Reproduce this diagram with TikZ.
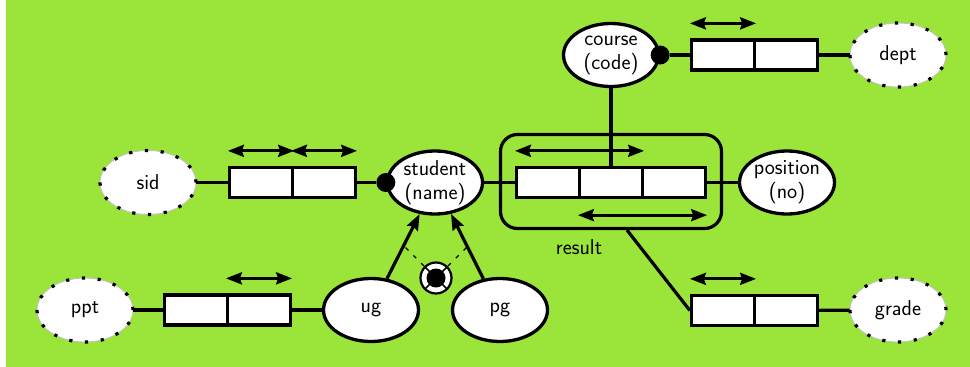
\documentclass[tikz,border=0pt]{standalone}
\usepackage{fontspec}
\usetikzlibrary{shapes.geometric,arrows.meta}
\definecolor{bg}{RGB}{155,229,58}
\begin{document}
\begin{tikzpicture}[x=1pt,y=-1pt,
  font=\sffamily\fontsize{21.5}{24}\selectfont,
  entity/.style={ellipse, draw, line width=3.3pt, fill=white,
    minimum width=95pt, minimum height=63pt, inner sep=-8pt, align=center},
  attr/.style={ellipse, fill=white, draw=black!25, line width=0.8pt,
    minimum width=96pt, minimum height=64pt, inner sep=0pt,
    postaction={draw=black, line width=3.2pt, dash pattern=on 3.2pt off 12.66pt}},
  cell/.style={rectangle, draw, line width=3.3pt, fill=white,
    minimum width=63pt, minimum height=30pt, inner sep=0pt},
  keydot/.style={circle, fill=black, minimum size=19pt, inner sep=0pt},
  link/.style={line width=3.2pt},
  tip/.tip={Stealth[length=16pt,width=12pt,inset=2pt]},
  span/.style={line width=3pt, tip-tip},
  isa/.style={line width=3.2pt, -tip},
  guide/.style={line width=1.2pt, dash pattern=on 4pt off 7pt, dash phase=5pt}
]
\useasboundingbox (0,0) rectangle (970,367);
\fill[bg] (6,0) rectangle (970,367);

% entities
\node[entity] (course)   at (611,55)    {course\\(code)};
\node[entity] (student)  at (435,182.5) {student\\(name)};
\node[entity] (position) at (787,182.5) {position\\(no)};
\node[entity] (ug)       at (371,310)   {ug};
\node[entity] (pg)       at (500,310)   {pg};

% attributes
\node[attr] (sid)   at (148,182.5) {sid};
\node[attr] (ppt)   at (85,310)    {ppt};
\node[attr] (dept)  at (898,55)    {dept};
\node[attr] (grade) at (898,310)   {grade};

% relation frame
\node[draw, line width=3.2pt, rounded corners=17pt,
  minimum width=221pt, minimum height=94pt] (frame) at (611,181.5) {};
\node (resultlabel) at (579,247) {result};

% cells
\node[cell] (sidA)   at (261,182.5) {};
\node[cell] (sidB)   at (324,182.5) {};
\node[cell] (pptA)   at (196,310)   {};
\node[cell] (pptB)   at (259,310)   {};
\node[cell] (deptA)  at (723,55)    {};
\node[cell] (deptB)  at (786,55)    {};
\node[cell] (gradeA) at (723,310.5) {};
\node[cell] (gradeB) at (786,310.5) {};
\node[cell] (resA)   at (548,182.5) {};
\node[cell] (resB)   at (611,182.5) {};
\node[cell] (resC)   at (674,182.5) {};

% key dots
\node[keydot] (k1) at (student.west) {};
\node[keydot] (k2) at (course.east) {};

% connectors
\draw[link] (sid) -- (sidA);
\draw[link] (sidB) -- (k1);
\draw[link] (student) -- (resA);
\draw[link] (resC) -- (position);
\draw[link] (course) -- (resB);
\draw[link] (k2) -- (deptA);
\draw[link] (deptB) -- (dept);
\draw[link] (ppt) -- (pptA);
\draw[link] (pptB) -- (ug);
\draw[link] (gradeB) -- (grade);
\draw[link] ([xshift=16pt]frame.south) -- (gradeA.west);

% spans
\draw[span] ([yshift=15pt]sidA.north west) -- ([yshift=15pt]sidA.north east);
\draw[span] ([yshift=15pt]sidB.north west) -- ([yshift=15pt]sidB.north east);
\draw[span] ([yshift=15pt]pptB.north west) -- ([yshift=15pt]pptB.north east);
\draw[span] ([yshift=15pt]deptA.north west) -- ([yshift=15pt]deptA.north east);
\draw[span] ([yshift=15pt]gradeA.north west) -- ([yshift=15pt]gradeA.north east);
\draw[span] ([yshift=15pt]resA.north west) -- ([yshift=15pt]resB.north east);
\draw[span] ([yshift=-16pt]resB.south west) -- ([yshift=-16pt]resC.south east);

% specialisation
\draw[isa] (ug.63) -- (student.244);
\draw[isa] (pg.118) -- (student.297);
\coordinate (dj) at (436,278);
\draw[guide] (dj) -- ++(-32,-32);
\draw[guide] (dj) -- ++(32,-32);
\node[circle, draw, line width=2.2pt, fill=white, minimum size=31pt, inner sep=0pt] (djring) at (dj) {};
\draw[line width=1.6pt] (djring.45) -- (djring.225);
\draw[line width=1.6pt] (djring.135) -- (djring.315);
\fill (dj) circle (9.5pt);
\end{tikzpicture}
\end{document}
